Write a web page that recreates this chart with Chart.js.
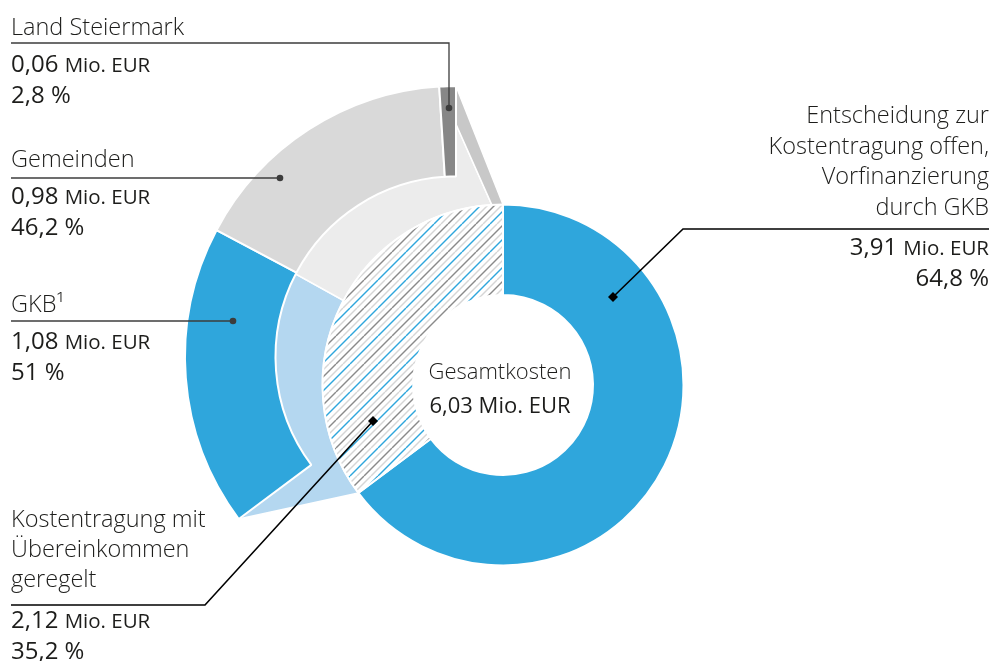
<!DOCTYPE html>
<html lang="de">
<head>
<meta charset="utf-8">
<script src="https://cdn.jsdelivr.net/npm/chart.js@4.4.1/dist/chart.umd.min.js"></script>
<style>
  html, body { margin: 0; padding: 0; background: #fff; }
  #wrap { position: relative; width: 993px; height: 661px; overflow: hidden;
          font-family: "Open Sans", "Noto Sans", sans-serif; color: #1d1d1b; }
  #wrap canvas { position: absolute; left: 0; top: 0; }
  .lbl { position: absolute; font-size: 23.5px; font-weight: 300; white-space: nowrap; }
  .lbl .t { line-height: 30px; }
  .lbl .v { font-size: 24px; font-weight: 400; line-height: 29px; margin-top: 7px; }
  .lbl .v .u { font-size: 20.5px; }
  .lbl .p { font-size: 24px; font-weight: 400; line-height: 29px; }
  .lbl.right { text-align: right; }
  .lbl.right .t { line-height: 30.5px; }
  .center { position: absolute; left: 400px; width: 200px; text-align: center; font-size: 22px; line-height: 34px; }
  .center .a { font-weight: 300; }
  .center .b { font-weight: 400; }
</style>
</head>
<body>
<div id="wrap">
  <canvas id="costCanvas" width="993" height="661"></canvas>
</div>
<script>
// Gesamtkosten und Aufteilung (Werte aus der Grafik)
const totalValue = 6.03;
const mainLabels = [
  ['Entscheidung zur', 'Kostentragung offen,', 'Vorfinanzierung', 'durch GKB'],
  ['Kostentragung mit', 'Übereinkommen', 'geregelt']
];
const mainValues = [3.91, 2.12];   // Mio. EUR
const mainShares = [64.8, 35.2];   // %

// Aufteilung des geregelten Teils
const splitLabels = ['GKB¹', 'Gemeinden', 'Land Steiermark'];
const splitValues = [1.08, 0.98, 0.06];  // Mio. EUR
const splitShares = [51, 46.2, 2.8];      // % vom geregelten Teil

// Farben
const blue = '#2fa6dc';
const splitColors = [blue, '#d9d9d9', '#878787'];
const funnelColors = ['#b4d7f0', '#ececec', '#c8c8c8'];

// Verschiebung des äußeren Rings (herausgezogen)
const explode = { x: -47, y: -28 };

// diagonale Schraffur fuer den geregelten Teil
function makeHatch() {
    const size = 28, step = 7;
    const c = document.createElement('canvas');
    c.width = size; c.height = size;
    const g = c.getContext('2d');
    g.fillStyle = '#fff';
    g.fillRect(0, 0, size, size);
    const cols = ['#8a8a8a', '#d6d6d6', blue, '#d6d6d6'];
    g.lineWidth = 1.4;
    for (let i = -4; i <= 4; i++) {
        g.strokeStyle = cols[((i % 4) + 4) % 4];
        g.beginPath();
        g.moveTo(i * step, size);
        g.lineTo(i * step + size, 0);
        g.stroke();
    }
    return g.createPattern(c, 'repeat');
}

const ctx = document.getElementById('costCanvas').getContext('2d');
const hatch = makeHatch();

// outer ring: first value is the open part (invisible), then the split
const outerData = [mainShares[0]].concat(splitShares.map(s => s * mainShares[1] / 100));

// draws the ring with translation
const explodePlugin = {
    id: 'explode',
    beforeDatasetDraw(chart, args) {
        if (args.index !== 0) return;
        chart.ctx.save();
        chart.ctx.translate(explode.x, explode.y);
    },
    afterDatasetDraw(chart, args) {
        if (args.index === 0) chart.ctx.restore();
    }
};

// light connection between the hatched wedge and the outer ring
const funnelPlugin = {
    id: 'funnel',
    beforeDatasetsDraw(chart) {
        const c = chart.ctx;
        const outer = chart.getDatasetMeta(0).data;
        const wedge = chart.getDatasetMeta(1).data[1];
        c.save();
        for (let i = 1; i < outer.length; i++) {
            const a = outer[i];
            c.beginPath();
            c.arc(a.x + explode.x, a.y + explode.y, a.outerRadius, a.startAngle, a.endAngle);
            c.arc(wedge.x, wedge.y, wedge.outerRadius, a.endAngle, a.startAngle, true);
            c.closePath();
            c.fillStyle = funnelColors[i - 1];
            c.fill();
            c.strokeStyle = '#fff';
            c.lineWidth = 1.5;
            c.stroke();
        }
        c.restore();
    }
};

// leader lines from the labels to the segments
const leaders = [
    { pts: [[11, 43], [449, 43], [449, 108]], mark: 'dot' },
    { pts: [[11, 178], [280, 178]], mark: 'dot' },
    { pts: [[11, 321], [233, 321]], mark: 'dot' },
    { pts: [[989, 229], [683, 229], [613, 297]], mark: 'diamond' },
    { pts: [[11, 605], [205, 605], [373, 421]], mark: 'diamond' }
];

const leaderPlugin = {
    id: 'leaders',
    afterDatasetsDraw(chart) {
        const c = chart.ctx;
        c.save();
        leaders.forEach(l => {
            const dark = l.mark === 'diamond';
            c.strokeStyle = dark ? '#000' : '#3c3c3c';
            c.lineWidth = dark ? 1.6 : 1.3;
            c.beginPath();
            l.pts.forEach((p, k) => k ? c.lineTo(p[0], p[1]) : c.moveTo(p[0], p[1]));
            c.stroke();
            const e = l.pts[l.pts.length - 1];
            c.fillStyle = dark ? '#000' : '#3c3c3c';
            c.beginPath();
            if (dark) {
                c.moveTo(e[0], e[1] - 5);
                c.lineTo(e[0] + 5, e[1]);
                c.lineTo(e[0], e[1] + 5);
                c.lineTo(e[0] - 5, e[1]);
                c.closePath();
            } else {
                c.arc(e[0], e[1], 3.3, 0, Math.PI * 2);
            }
            c.fill();
        });
        c.restore();
    }
};

let costChart = new Chart(ctx, {
    type: 'doughnut',
    data: {
        labels: [mainLabels[0]].concat(splitLabels),
        datasets: [{
            label: 'Aufteilung',
            data: outerData,
            backgroundColor: ['rgba(0,0,0,0)'].concat(splitColors),
            borderColor: '#fff',
            borderWidth: [0, 2, 2, 2],
            clip: false
        }, {
            label: 'Gesamtkosten',
            data: mainShares,
            backgroundColor: [blue, hatch],
            borderColor: '#fff',
            borderWidth: 2,
            clip: false
        }]
    },
    options: {
        responsive: false,
        animation: false,
        events: [],
        radius: 271,
        cutout: '33.2%',
        layout: { padding: { left: 13, right: 0, top: 109, bottom: 0 } },
        plugins: {
            legend: { display: false },
            tooltip: { enabled: false }
        }
    },
    plugins: [funnelPlugin, explodePlugin, leaderPlugin]
});

// text labels
const wrap = document.getElementById('wrap');
const fmtValue = v => v.toFixed(2).replace('.', ',');
const fmtShare = s => String(s).replace('.', ',');

function addLabel(lines, value, share, style, cls, gap) {
    const div = document.createElement('div');
    div.className = 'lbl ' + (cls || '');
    Object.assign(div.style, style);
    div.innerHTML = '<div class="t">' + lines.join('<br>') + '</div>' +
        '<div class="v" style="margin-top:' + gap + 'px"><span class="n">' + fmtValue(value) +
        '</span> <span class="u">Mio. EUR</span></div>' +
        '<div class="p">' + fmtShare(share) + ' %</div>';
    wrap.appendChild(div);
}

const splitPos = [{ left: '11px', top: '288px' }, { left: '11px', top: '143px' }, { left: '11px', top: '11px' }];
splitLabels.forEach((lab, i) => addLabel([lab], splitValues[i], splitShares[i], splitPos[i], '', 7));
addLabel(mainLabels[0], mainValues[0], mainShares[0], { right: '4px', top: '99px' }, 'right', 10);
addLabel(mainLabels[1], mainValues[1], mainShares[1], { left: '11px', top: '503px' }, '', 11);

const center = document.createElement('div');
center.className = 'center';
center.style.top = '353px';
center.innerHTML = '<div class="a">Gesamtkosten</div><div class="b">' + fmtValue(totalValue) + ' Mio. EUR</div>';
wrap.appendChild(center);
</script>
</body>
</html>
